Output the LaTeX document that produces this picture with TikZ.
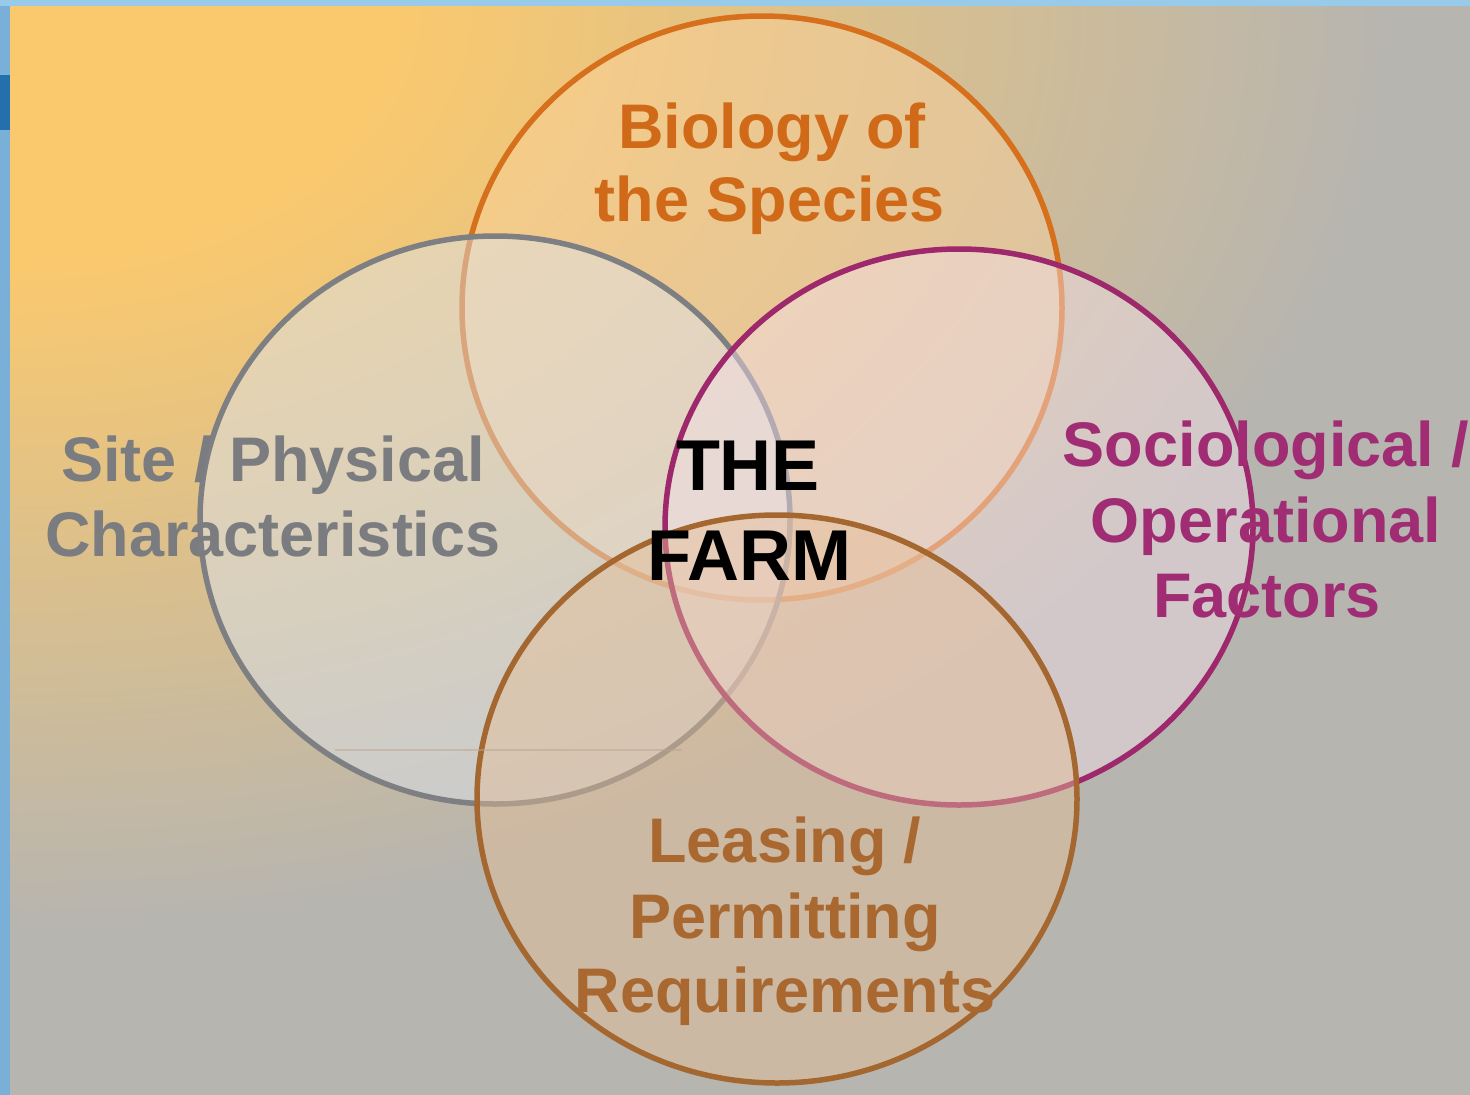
\documentclass[tikz,border=0pt]{standalone}
\usepackage{fontspec}
\setmainfont{Liberation Sans}
\definecolor{bgA}{RGB}{250,201,110}
\definecolor{bgB}{RGB}{183,181,176}
\definecolor{waterA}{RGB}{122,176,216}
\definecolor{waterB}{RGB}{152,202,234}
\definecolor{waterC}{RGB}{36,112,172}
\definecolor{orangeS}{RGB}{214,112,28}
\definecolor{orangeT}{RGB}{208,106,24}
\definecolor{orangeF}{RGB}{255,212,160}
\definecolor{greyS}{RGB}{125,127,130}
\definecolor{greyT}{RGB}{122,124,127}
\definecolor{greyF}{RGB}{220,230,245}
\definecolor{magS}{RGB}{158,40,108}
\definecolor{magT}{RGB}{160,45,115}
\definecolor{magF}{RGB}{245,225,235}
\definecolor{brownS}{RGB}{165,103,48}
\definecolor{brownT}{RGB}{168,104,48}
\definecolor{brownF}{RGB}{230,190,150}
\definecolor{faintline}{RGB}{185,165,145}
\pgfdeclareradialshading{bgshade}{\pgfpoint{0bp}{0bp}}{color(0bp)=(bgA); color(7bp)=(bgA); color(25bp)=(bgB); color(50bp)=(bgB)}
\begin{document}
\begin{tikzpicture}[x=1pt,y=-1pt,
  lbl/.style={anchor=base, font=\bfseries\fontsize{63}{75}\selectfont, inner sep=0pt},
  farm/.style={anchor=base, font=\bfseries\fontsize{72}{86}\selectfont, inner sep=0pt, text=black},
  ring/.style={line width=5.5pt}]
\useasboundingbox (0,0) rectangle (1470,1095);
% water strips
\fill[waterA] (0,0) rectangle (1470,1095);
\fill[waterB] (0,0) rectangle (1470,6);
\fill[waterC] (0,75) rectangle (10,130);
% panel background
\begin{scope}
  \clip (10,6) rectangle (1470,1095);
  \fill[bgB] (10,6) rectangle (1470,1095);
  \shade[shading=bgshade] (10,6) ellipse (1380 and 920);
\end{scope}
% Biology circle
\fill[orangeF, fill opacity=0.4] (762,308) ellipse (300 and 292);
\draw[ring, orangeS] (762,308) ellipse (300 and 292);
% Site circle
\fill[greyF, fill opacity=0.45] (495,520) ellipse (295 and 284);
\draw[ring, greyS] (495,520) ellipse (295 and 284);
% Sociological circle
\fill[magF, fill opacity=0.45] (959,527) ellipse (294 and 278);
\draw[ring, magS] (959,527) ellipse (294 and 278);
% Leasing circle
\fill[brownF, fill opacity=0.45] (777,799) ellipse (300 and 284);
\draw[ring, brownS] (777,799) ellipse (300 and 284);
% faint line
\draw[faintline, line width=1.5pt, opacity=0.5] (335,750) -- (682,750);
% labels
\node[lbl, text=orangeT] (bio1) at (772,148) {Biology of};
\node[lbl, text=orangeT] (bio2) at (770,221) {the Species};
\node[lbl, text=greyT] (site1) at (273,481) {Site / Physical};
\node[lbl, text=greyT] (site2) at (273,556) {Characteristics};
\node[lbl, text=magT] (soc1) at (1266,466) {Sociological /};
\node[lbl, text=magT] (soc2) at (1266,542) {Operational};
\node[lbl, text=magT] (soc3) at (1267,617) {Factors};
\node[lbl, text=brownT] (lea1) at (785,862) {Leasing /};
\node[lbl, text=brownT] (lea2) at (785,938) {Permitting};
\node[lbl, text=brownT] (lea3) at (785,1012) {Requirements};
\node[farm] (farm1) at (748,490) {THE};
\node[farm] (farm2) at (749,580) {FARM};
\end{tikzpicture}
\end{document}
